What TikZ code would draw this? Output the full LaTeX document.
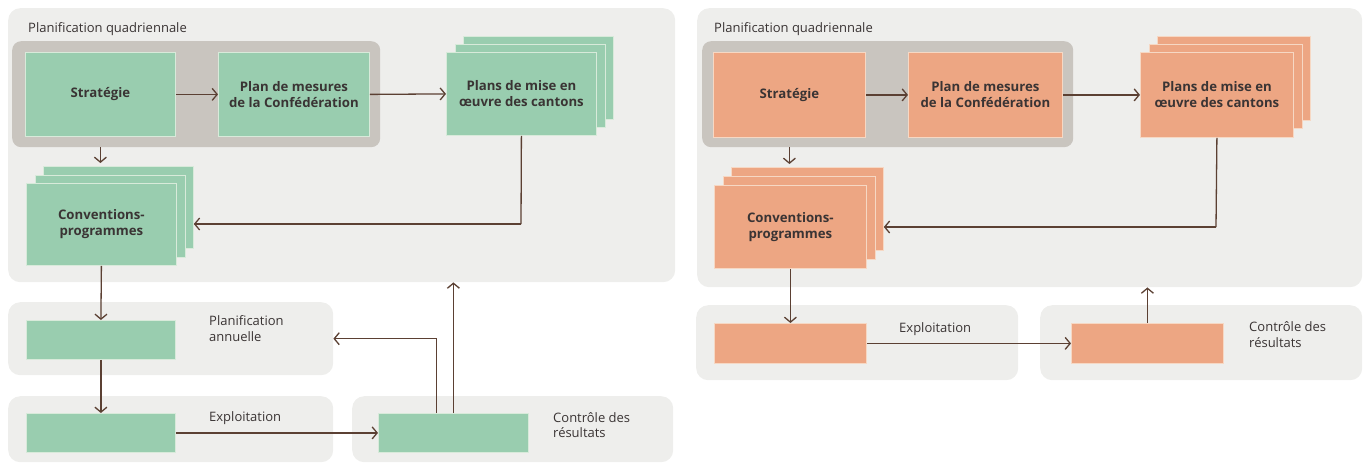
\documentclass[tikz,border=0pt]{standalone}
\usepackage{fontspec}
\setmainfont{Open Sans}
\usetikzlibrary{arrows.meta}
\definecolor{panelbg}{HTML}{EEEEEC}
\definecolor{grpbg}{HTML}{C9C5BF}
\definecolor{greenbox}{HTML}{99CDAF}
\definecolor{greenedge}{HTML}{D8EADA}
\definecolor{orangebox}{HTML}{EDA683}
\definecolor{orangeedge}{HTML}{F6D8C4}
\definecolor{arrowc}{HTML}{5B4033}
\definecolor{txt}{HTML}{3A3434}
\tikzset{
  panel/.style={rectangle, rounded corners=12pt, fill=panelbg, inner sep=0pt, anchor=north west},
  grp/.style={rectangle, rounded corners=9pt, fill=grpbg, inner sep=0pt, anchor=north west},
  gbox/.style={rectangle, fill=greenbox, draw=greenedge, line width=0.8pt, inner sep=0pt, anchor=north west,
     align=center, text=txt, font=\bfseries\fontsize{13.2}{16}\selectfont},
  obox/.style={gbox, fill=orangebox, draw=orangeedge},
  lbl/.style={inner sep=0pt, anchor=base west, align=left, text=txt, font=\fontsize{13}{15.5}\selectfont},
  arr/.style={draw=arrowc, line width=1.3pt, -{Straight Barb[length=5pt,width=12pt,line width=1.3pt]}},
  ln/.style={draw=arrowc, line width=1.3pt},
}
\begin{document}
\begin{tikzpicture}[x=1pt,y=-1pt]
\useasboundingbox (0,0) rectangle (1364,466);
% ===== LEFT DIAGRAM =====
\node[panel, minimum width=667pt, minimum height=274pt] (pL) at (8,8) {};
\node[panel, minimum width=325pt, minimum height=73pt] (pLa) at (8,302) {};
\node[panel, minimum width=325pt, minimum height=66pt] (pLb) at (8,396) {};
\node[panel, minimum width=321pt, minimum height=66pt] (pLc) at (352,396) {};
\node[lbl] (tL) at (28,32) {Planification quadriennale};
\node[grp, minimum width=368pt, minimum height=106pt] (gL) at (12,41) {};
\node[gbox, minimum width=150pt, minimum height=84pt] (sL) at (25,52) {Stratégie};
\node[gbox, minimum width=151pt, minimum height=84pt] (mL) at (218,52) {Plan de mesures\\de la Confédération};
\node[gbox, minimum width=150pt, minimum height=83pt] (cL3) at (463,36) {};
\node[gbox, minimum width=150pt, minimum height=83pt] (cL2) at (454.5,44) {};
\node[gbox, minimum width=150pt, minimum height=83pt] (cL) at (446,52) {Plans de mise en\\œuvre des cantons};
\node[gbox, minimum width=150pt, minimum height=82pt] (vL3) at (43,166) {};
\node[gbox, minimum width=150pt, minimum height=82pt] (vL2) at (34.5,174.5) {};
\node[gbox, minimum width=150pt, minimum height=82pt] (vL) at (26,183) {Conventions-\\programmes};
\node[gbox, minimum width=149pt, minimum height=39pt] (aL) at (26,320) {};
\node[lbl] (taL) at (209,341) {Planification\\annuelle};
\node[gbox, minimum width=149pt, minimum height=39pt] (eL) at (26,413) {};
\node[lbl] (teL) at (209,421) {Exploitation};
\node[gbox, minimum width=150pt, minimum height=39pt] (kL) at (378,413) {};
\node[lbl] (tkL) at (553,437.5) {Contrôle des\\résultats};
\coordinate (bendL) at (521,224);
\draw[arr] (sL.east) -- (mL.west);
\draw[arr] (mL.east) -- (cL.west);
\draw[ln] (cL.south) -- (bendL);
\draw[arr] (bendL) -- (vL3.east |- bendL);
\draw[arr] (sL.south |- gL.south) -- ([yshift=3pt]sL.south |- vL3.north);
\draw[arr] (vL.south) -- (aL.north);
\draw[arr] (aL.south) -- (eL.north);
\draw[arr] (eL.east) -- (kL.west);
\draw[arr] ([xshift=-17pt]kL.north) |- (pLa.east);
\draw[arr] (kL.north) -- (kL.north |- pL.south);
% ===== RIGHT DIAGRAM =====
\node[panel, minimum width=665pt, minimum height=279pt] (pR) at (697,8) {};
\node[panel, minimum width=322pt, minimum height=75pt] (pRa) at (696,305) {};
\node[panel, minimum width=322pt, minimum height=75pt] (pRb) at (1040,305) {};
\node[lbl] (tR) at (714,32) {Planification quadriennale};
\node[grp, minimum width=371pt, minimum height=106pt] (gR) at (702,41) {};
\node[obox, minimum width=152pt, minimum height=85pt] (sR) at (713,52) {Stratégie};
\node[obox, minimum width=154pt, minimum height=85pt] (mR) at (908,52) {Plan de mesures\\de la Confédération};
\node[obox, minimum width=153pt, minimum height=84pt] (cR3) at (1157,36) {};
\node[obox, minimum width=153pt, minimum height=84pt] (cR2) at (1148.5,44) {};
\node[obox, minimum width=153pt, minimum height=85pt] (cR) at (1140,52) {Plans de mise en\\œuvre des cantons};
\node[obox, minimum width=152pt, minimum height=83pt] (vR3) at (731,167) {};
\node[obox, minimum width=152pt, minimum height=83pt] (vR2) at (722.5,176) {};
\node[obox, minimum width=152pt, minimum height=83pt] (vR) at (714,185) {Conventions-\\programmes};
\node[obox, minimum width=152pt, minimum height=40pt] (eR) at (714,323) {};
\node[lbl] (teR) at (899,332) {Exploitation};
\node[obox, minimum width=152pt, minimum height=40pt] (kR) at (1071,323) {};
\node[lbl] (tkR) at (1249,347) {Contrôle des\\résultats};
\coordinate (bendR) at (1216,227);
\draw[arr] (sR.east) -- (mR.west);
\draw[arr] (mR.east) -- (cR.west);
\draw[ln] (cR.south) -- (bendR);
\draw[arr] (bendR) -- (vR3.east |- bendR);
\draw[arr] (sR.south |- gR.south) -- ([yshift=3pt]sR.south |- vR3.north);
\draw[arr] (vR.south) -- (eR.north);
\draw[arr] (eR.east) -- (kR.west);
\draw[arr] (kR.north) -- (kR.north |- pR.south);
\end{tikzpicture}
\end{document}
